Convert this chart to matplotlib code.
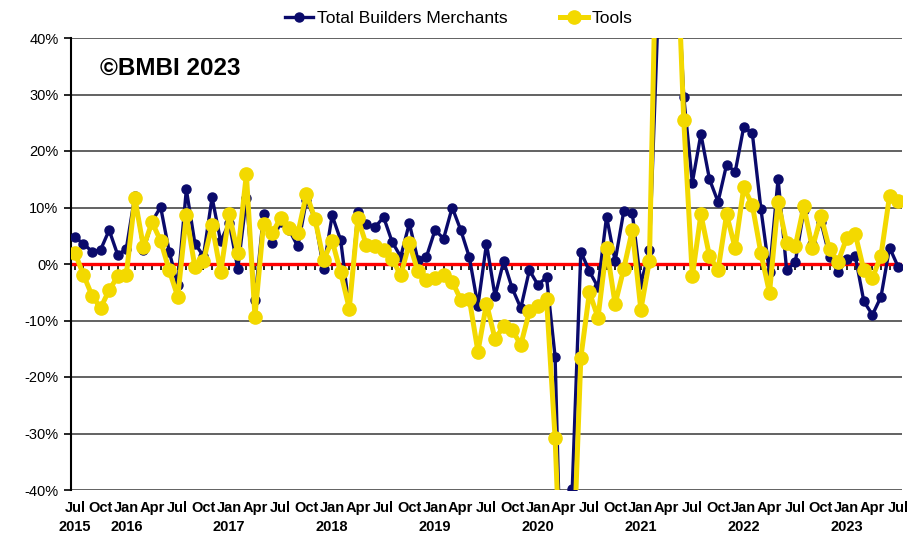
import numpy as np
import pandas as pd
import matplotlib
matplotlib.use("Agg")
import matplotlib.pyplot as plt
from matplotlib.ticker import FixedLocator, FuncFormatter
import matplotlib.transforms as mtransforms

# ---- data ----
start_month = "2015-07-01"
n_months = 97
series_names = ["Total Builders Merchants", "Tools"]
total_bm = [
    4.7, 3.6, 2.2, 2.5, 6.0, 1.6, 2.7, 12.1, 2.4, 7.5,
    10.1, 2.2, -3.7, 13.2, 3.6, 1.4, 11.8, 4.0, 7.3, -0.8,
    11.6, -6.4, 8.8, 3.8, 7.5, 6.0, 3.1, 11.3, 8.0, -0.8,
    8.6, 4.2, -8.1, 9.2, 7.1, 6.5, 8.3, 3.9, 1.3, 7.2,
    0.7, 1.3, 6.0, 4.5, 10.0, 6.0, 1.2, -7.4, 3.6, -5.7,
    0.5, -4.3, -7.8, -1.1, -3.7, -2.3, -16.4, -75.0, -39.8, 2.2,
    -1.3, -4.1, 8.4, 0.5, 9.3, 9.0, -3.5, 2.4, 44.0, 150.0,
    60.0, 29.6, 14.4, 23.0, 15.0, 11.0, 17.6, 16.3, 24.3, 23.1,
    9.7, -1.5, 15.1, -1.1, 0.3, 9.5, 3.5, 7.5, 1.3, -1.5,
    0.8, 1.4, -6.6, -9.0, -5.8, 2.9, -0.5]
tools = [
    2.0, -1.9, -5.6, -7.8, -4.6, -2.2, -1.9, 11.6, 3.0, 7.4,
    4.1, -1.1, -5.8, 8.7, -0.6, 0.5, 6.9, -1.5, 8.8, 1.9,
    15.9, -9.3, 7.1, 5.5, 8.1, 6.4, 5.4, 12.4, 8.0, 0.7,
    4.1, -1.5, -7.9, 8.1, 3.3, 3.2, 2.4, 0.9, -2.0, 3.7,
    -1.3, -2.8, -2.5, -1.9, -3.1, -6.3, -6.2, -15.5, -7.0, -13.3,
    -11.0, -11.7, -14.3, -8.4, -7.4, -6.2, -30.8, -70.0, -58.0, -16.6,
    -5.0, -9.5, 2.9, -7.1, -0.9, 6.0, -8.1, 0.6, 73.0, 150.0,
    65.0, 25.5, -2.2, 8.8, 1.4, -1.1, 8.8, 2.8, 13.6, 10.4,
    1.9, -5.1, 11.0, 3.7, 3.1, 10.2, 2.8, 8.5, 2.6, 0.4,
    4.6, 5.3, -1.1, -2.5, 1.5, 12.1, 11.1]
y_ticks = [-40, -30, -20, -10, 0, 10, 20, 30, 40]
watermark = "©BMBI 2023"

dates = pd.date_range(start_month, periods=n_months, freq="MS")
x = np.arange(n_months)
month_labels = [d.strftime("%b") for d in dates]
label_idx = [i for i, d in enumerate(dates) if d.month in (1, 4, 7, 10)]
year_idx = [0] + [i for i, d in enumerate(dates) if d.month == 1]

NAVY = "#0a0a6b"
YELLOW = "#f3d900"
FONT = ["Liberation Sans", "DejaVu Sans"]
plt.rcParams["font.family"] = FONT

fig = plt.figure(figsize=(9.18, 5.36), dpi=100)
ax = fig.add_axes([71 / 918, 1 - 490 / 536, (902 - 71) / 918, (490 - 38) / 536])

ax.set_xlim(-0.45, n_months - 1 + 0.45)
ax.set_ylim(-40, 40)

# grid
ax.yaxis.set_major_locator(FixedLocator(y_ticks))
ax.yaxis.set_major_formatter(FuncFormatter(lambda v, p: f"{v:.0f}%"))
for yv in y_ticks:
    if yv != 0:
        ax.axhline(yv, color="#555555", lw=1.3, zorder=0.5)
ax.axhline(0, color="#ff0000", lw=2.4, zorder=1.8)

# month tick marks along zero line
sec = ax.secondary_xaxis(0.5)
sec.set_xticks(x)
sec.tick_params(axis="x", direction="out", length=4, width=1.2, color="black",
                labelbottom=False, labeltop=False, bottom=True, top=False)
sec.spines["bottom"].set_visible(False)
sec.spines["top"].set_visible(False)
sec.set_zorder(1.5)

ax.plot(x, total_bm, color=NAVY, lw=2.4, marker="o", ms=6.5, mec=NAVY, mfc=NAVY,
        label=series_names[0], zorder=3)
ax.plot(x, tools, color=YELLOW, lw=3.6, marker="o", ms=9.5, mec=YELLOW, mfc=YELLOW,
        label=series_names[1], zorder=4)

# spines
for s in ["top", "right", "bottom"]:
    ax.spines[s].set_visible(False)
ax.spines["left"].set_linewidth(1.5)
ax.spines["left"].set_color("black")
ax.tick_params(axis="y", direction="out", length=5, width=1.2, labelsize=10.5, pad=4)

ax.set_xticks(label_idx)
ax.set_xticklabels([month_labels[i] for i in label_idx],
                   fontsize=10.5, fontweight="bold")
ax.tick_params(axis="x", length=0, pad=8)

trans = mtransforms.blended_transform_factory(ax.transData, ax.transAxes)
for i in year_idx:
    ax.text(x[i], -0.067, str(dates[i].year), transform=trans, ha="center", va="top",
            fontsize=10.5, fontweight="bold")

ax.text(0.035, 0.958, watermark, transform=ax.transAxes, ha="left", va="top",
        fontsize=17.5, fontweight="bold", color="black")

fig.legend(loc="upper center", bbox_to_anchor=(0.5, 0.993), ncol=2, frameon=False,
           fontsize=12.5, handlelength=1.6, columnspacing=3.0, handletextpad=0.25,
           borderaxespad=0.0)

fig.savefig("out.png", dpi=100)
